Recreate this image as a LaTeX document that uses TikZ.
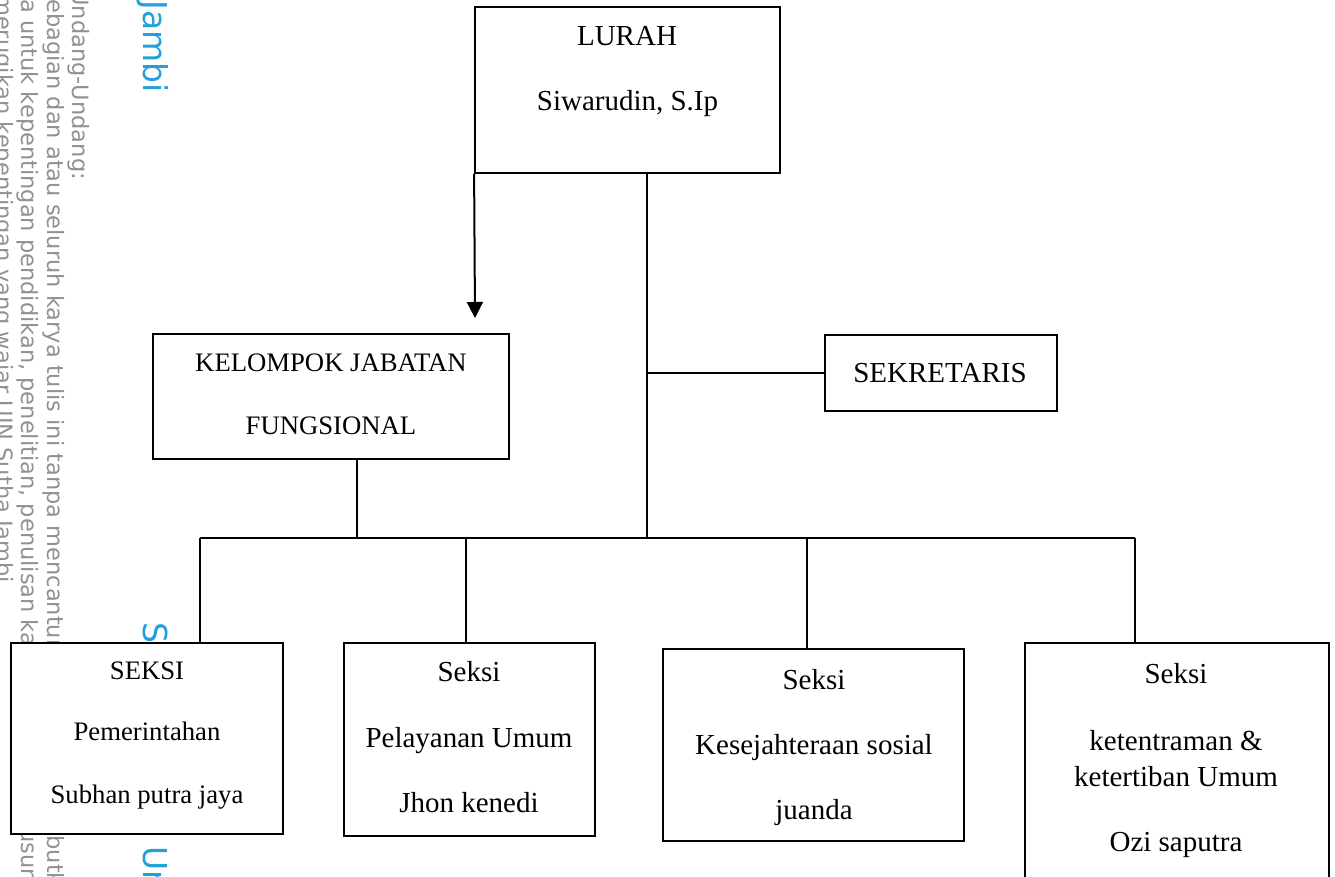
\documentclass[tikz,border=0pt]{standalone}
\usepackage{fontspec}
\setmainfont{Liberation Serif}
\newfontfamily\wmfont{DejaVu Sans}
\usetikzlibrary{arrows.meta}
\definecolor{wmgray}{RGB}{145,145,145}
\definecolor{wmblue}{RGB}{35,160,220}
\begin{document}
\begin{tikzpicture}[x=1pt,y=-1pt,
  box/.style={draw=black,line width=1.8pt,fill=white,inner sep=0pt},
  conn/.style={draw=black,line width=1.3pt},
  lbl/.style={inner sep=0pt,text height=19.2pt,text depth=0pt,font=\fontsize{29}{34}\selectfont},
  lbls/.style={inner sep=0pt,text height=17.7pt,text depth=0pt,font=\fontsize{26.7}{32}\selectfont},
  wm/.style={rotate=-90,inner sep=0pt,text=wmgray,font=\wmfont\fontsize{22.5}{27}\selectfont},
  wmb/.style={rotate=-90,inner sep=0pt,text=wmblue,font=\wmfont\fontsize{33}{40}\selectfont}]
\useasboundingbox (0,0) rectangle (1335,876);
\clip (0,0) rectangle (1335,876);
\fill[white] (0,0) rectangle (1335,876);
% watermark
\node[wmb,anchor=base east] (wmJ) at (143,93) {State Islamic University of Sulthan Thaha Saifuddin Jambi};
\node[wmb,anchor=base west] (wmS) at (143,622) {State Islamic University of Sulthan Thaha Saifuddin Jambi};
\node[wm,anchor=base east] (wm1) at (72,180) {Hak Cipta Dilindungi Undang-Undang:};
\node[wm,anchor=base east] (wm2a) at (47,-1) {1. Dilarang mengutip s};
\node[wm,anchor=base west] (wm2b) at (47,-1) {ebagian dan atau seluruh karya tulis ini tanpa mencantumkan dan menyebutkan sumber};
\node[wm,anchor=base east] (wm3a) at (21,-1) {a. Pengutipan hany};
\node[wm,anchor=base west] (wm3b) at (21,-1) {a untuk kepentingan pendidikan, penelitian, penulisan karya ilmiah, penyusunan laporan, penulisan kritik atau tinjauan suatu masalah.};
\node[wm,anchor=base east] (wm4a) at (-4,-6) {b. Pengutipan tidak };
\node[wm,anchor=base west] (wm4b) at (-4,-6) {merugikan kepentingan yang wajar UIN Sutha Jambi};
% boxes
\node[box,minimum width=305pt,minimum height=166pt] (lurah) at (627.5,90) {};
\node[box,minimum width=356pt,minimum height=125pt] (kjf) at (331,396.5) {};
\node[box,minimum width=232pt,minimum height=76pt] (sek) at (941,373) {};
\node[box,minimum width=272pt,minimum height=191pt] (s1) at (147,738.5) {};
\node[box,minimum width=251pt,minimum height=193pt] (s2) at (469.5,739.5) {};
\node[box,minimum width=301pt,minimum height=192pt] (s3) at (813.5,745) {};
\node[box,minimum width=304pt,minimum height=257pt] (s4) at (1177,771.5) {};
% texts
\node[lbl] (t1) at (627,36) {LURAH};
\node[lbl] (t2) at (627.5,101) {Siwarudin, S.Ip};
\node[lbls] (t3) at (331,362.5) {KELOMPOK JABATAN};
\node[lbls] (t4) at (331,426) {FUNGSIONAL};
\node[lbl] (t5) at (940,373) {SEKRETARIS};
\node[lbls] (t6) at (147,671) {SEKSI};
\node[lbls] (t7) at (147,732) {Pemerintahan};
\node[lbls] (t8) at (147,795) {Subhan putra jaya};
\node[lbl] (t9) at (469,672) {Seksi};
\node[lbl] (t10) at (469,738) {Pelayanan Umum};
\node[lbl] (t11) at (469,803) {Jhon kenedi};
\node[lbl] (t12) at (814,680) {Seksi};
\node[lbl] (t13) at (814,745) {Kesejahteraan sosial};
\node[lbl] (t14) at (814,810) {juanda};
\node[lbl] (t15) at (1176,674) {Seksi};
\node[lbl] (t16) at (1176,741) {ketentraman \&};
\node[lbl] (t17) at (1176,777) {ketertiban Umum};
\node[lbl] (t18) at (1176,842) {Ozi saputra};
% connectors
\coordinate (tip) at (475,318);
\coordinate (jc) at (647,538);
\coordinate (jk) at (357,538);
\coordinate (b1) at (200,538);
\coordinate (b2) at (466,538);
\coordinate (b3) at (807,538);
\coordinate (b4) at (1135,538);
\draw[line width=2pt,-{Triangle[length=16pt,width=16pt]}] (lurah.south west) -- (tip);
\draw[conn] (lurah.south -| jc) -- (jc);
\draw[conn] (sek.west) -- (sek.west -| jc);
\draw[conn] (kjf.south -| jk) -- (jk);
\draw[conn] (b1) -- (b4);
\draw[conn] (b1) -- (s1.north -| b1);
\draw[conn] (b2) -- (s2.north -| b2);
\draw[conn] (b3) -- (s3.north -| b3);
\draw[conn] (b4) -- (s4.north -| b4);
\end{tikzpicture}
\end{document}
